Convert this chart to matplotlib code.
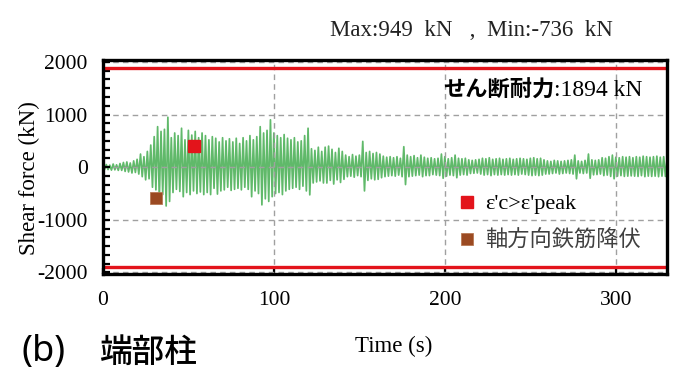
import numpy as np
import matplotlib
matplotlib.use("Agg")
import matplotlib.pyplot as plt
from matplotlib.ticker import MultipleLocator, FixedLocator

# ---- data ----
shear = [
    30, -40, 50, -45, 40, -55, 60, -50, 45, -60,
    70, -60, 90, -80, 100, -90, 80, -110, 120, -100,
    150, -130, 250, -180, 200, -240, 300, -220, 420, -380,
    580, -430, 770, -600, 680, -520, 720, -736, 949, -650,
    560, -480, 650, -420, 600, -460, 740, -560, 520, -480,
    700, -520, 610, -450, 680, -500, 560, -470, 650, -520,
    600, -480, 520, -520, 580, -400, 550, -510, 480, -450,
    560, -430, 500, -380, 540, -440, 480, -420, 550, -400,
    450, -430, 560, -380, 500, -420, 600, -560, 520, -450,
    580, -500, 770, -715, 650, -600, 700, -650, 900, -560,
    650, -500, 600, -480, 560, -520, 620, -450, 550, -420,
    520, -400, 560, -380, 480, -420, 500, -360, 600, -450,
    740, -525, 350, -300, 320, -280, 380, -260, 300, -300,
    380, -300, 400, -250, 340, -320, 280, -240, 360, -290,
    300, -230, 230, -180, 200, -170, 240, -190, 210, -160,
    230, -180, 490, -450, 280, -250, 300, -220, 260, -240,
    280, -230, 250, -200, 210, -180, 190, -170, 200, -160,
    180, -170, 200, -150, 170, -180, 390, -330, 230, -180,
    200, -170, 220, -160, 180, -150, 230, -180, 190, -160,
    170, -160, 180, -140, 160, -150, 170, -160, 250, -210,
    200, -170, 160, -150, 180, -160, 230, -200, 170, -150,
    160, -140, 170, -150, 140, -120, 130, -115, 140, -110,
    150, -130, 170, -150, 160, -140, 180, -160, 150, -140,
    160, -150, 170, -140, 150, -150, 160, -140, 170, -150,
    150, -140, 160, -150, 170, -130, 160, -140, 150, -150,
    170, -160, 180, -150, 160, -160, 170, -150, 140, -130,
    120, -130, 110, -120, 130, -110, 120, -130, 110, -120,
    120, -110, 130, -120, 140, -130, 230, -220, 120, -110,
    110, -120, 130, -110, 250, -210, 140, -145, 130, -140,
    140, -130, 180, -160, 170, -150, 200, -175, 230, -220,
    190, -170, 180, -160, 200, -175, 190, -170, 200, -165,
    180, -170, 200, -175, 190, -160, 210, -180, 200, -170,
    190, -175, 200, -170, 210, -180, 190, -170, 200, -175, 180,
]
time = np.arange(len(shear))  # 1 s sampling of the read peaks

capacity = 1894
peak_event = (53.2, 410)      # ε'c>ε'peak
yield_event = (31.3, -577)    # 軸方向鉄筋降伏
max_val, min_val = 949, -736

xticks = [0, 100, 200, 300]
yticks = [-2000, -1000, 0, 1000, 2000]

SERIF = "Liberation Serif"
JP = "Noto Sans CJK JP"

fig = plt.figure(figsize=(7.0, 3.86), dpi=100)
ax = fig.add_axes([0.147, 0.290, 0.806, 0.555])

ax.plot(time, shear, color="#3daa49", lw=1.25, alpha=0.82, zorder=2)
ax.axhline(capacity, color="#e3141b", lw=2.4, zorder=3)
ax.axhline(-capacity, color="#e3141b", lw=2.4, zorder=3)

ax.plot([peak_event[0]], [peak_event[1]], ls="none", marker="s", ms=8.5,
        color="#e3141b", label="ε'c>ε'peak", zorder=5)
ax.plot([yield_event[0]], [yield_event[1]], ls="none", marker="s", ms=8.5,
        color="#9b4a22", mec="#b87a55", mew=0.6, label="軸方向鉄筋降伏", zorder=5)

ax.set_xlim(0, 330)
ax.set_ylim(-2030, 2040)
ax.xaxis.set_major_locator(FixedLocator(xticks))
ax.yaxis.set_major_locator(FixedLocator(yticks))
ax.yaxis.set_minor_locator(MultipleLocator(1000 / 6))
ax.set_xticklabels([str(v) for v in xticks], family=SERIF, fontsize=15.5)
ax.set_yticklabels([str(v) for v in yticks], family=SERIF, fontsize=15.5)
ax.tick_params(axis="both", which="both", direction="in", color="black")
ax.tick_params(axis="y", which="major", length=5, width=1.6, pad=11)
ax.tick_params(axis="y", which="minor", length=5, width=1.6)
ax.tick_params(axis="x", which="major", length=4, width=1.6, pad=12)
for s in ax.spines.values():
    s.set_linewidth(2.4)
    s.set_zorder(6)

ax.grid(True, which="major", color="#a0a0a0", ls=(0, (4, 3)), lw=1.0)
ax.set_axisbelow(False)
for gl in ax.get_xgridlines() + ax.get_ygridlines():
    gl.set_zorder(4)

ax.set_xlabel("Time (s)", family=SERIF, fontsize=16.5)
ax.xaxis.set_label_coords(0.515, -0.29)
ax.set_ylabel("Shear force (kN)", family=SERIF, fontsize=16.5)
ax.yaxis.set_label_coords(-0.112, 0.45)

t1 = ax.text(199, 1460, "せん断耐力", family=JP, fontweight="bold",
             fontsize=16, va="center", ha="left", zorder=7)
ax.annotate(f":{capacity} kN", xy=(1, 0.5), xycoords=t1, va="center", ha="left",
            family=SERIF, fontsize=17, zorder=7)

leg = ax.legend(loc="upper left", bbox_to_anchor=(0.632, 0.375), frameon=False,
                prop={"family": [SERIF, JP], "size": 16},
                handlelength=0.7, handletextpad=0.45, labelspacing=0.72,
                borderpad=0, borderaxespad=0)
leg.get_texts()[1].set_color("#404040")
leg.set_zorder(7)

fig.text(0.674, 0.922, f"Max:{max_val}  kN   ,  Min:{min_val}  kN", family=SERIF,
         fontsize=16.5, ha="center", va="center", color="#222222")
fig.text(0.031, 0.088, "(b)", family=["Noto Sans", JP], fontsize=26,
         ha="left", va="center")
fig.text(0.141, 0.088, "端部柱", family=JP, fontsize=23.5, fontweight="medium",
         ha="left", va="center")

fig.savefig("out.png", dpi=100)
